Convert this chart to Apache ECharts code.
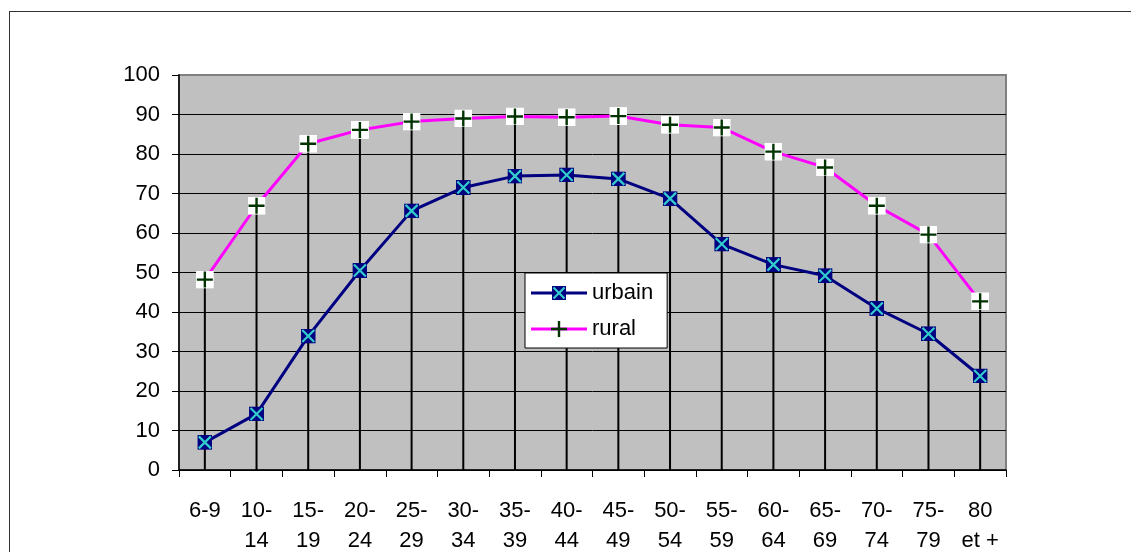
<!DOCTYPE html>
<html>
<head>
<meta charset="utf-8">
<script src="https://cdn.jsdelivr.net/npm/echarts@6/dist/echarts.min.js"></script>
<style>
html,body{margin:0;padding:0;background:#fff;overflow:hidden;}
#frame{position:absolute;left:9px;top:11px;width:1200px;height:700px;border:1.5px solid #333;box-sizing:border-box;}
#chart{position:absolute;left:0;top:0;width:1131px;height:552px;}
</style>
</head>
<body>
<div id="frame"></div>
<div id="chart"></div>
<script>
const categories = ['6-9','10-\n14','15-\n19','20-\n24','25-\n29','30-\n34','35-\n39','40-\n44','45-\n49','50-\n54','55-\n59','60-\n64','65-\n69','70-\n74','75-\n79','80\net +'];
const urbain = [7, 14.2, 33.9, 50.5, 65.6, 71.5, 74.4, 74.7, 73.7, 68.7, 57.2, 52, 49.2, 40.9, 34.5, 23.8];
const rural  = [48.2, 66.9, 82.6, 86.1, 88.2, 89, 89.5, 89.3, 89.6, 87.4, 86.7, 80.6, 76.6, 66.9, 59.6, 42.7];
const yTicks = {min: 0, max: 100, interval: 10};

function svgImg(svg){ return 'image://data:image/svg+xml;charset=utf-8,' + encodeURIComponent(svg); }
const urbSym = svgImg('<svg xmlns="http://www.w3.org/2000/svg" width="15" height="15" viewBox="0 0 15 15"><rect x="0" y="0" width="15" height="15" fill="#000080"/><path d="M1.5 1.5L13.5 13.5M13.5 1.5L1.5 13.5" stroke="#33cccc" stroke-width="2.2"/></svg>');
const rurSym = svgImg('<svg xmlns="http://www.w3.org/2000/svg" width="18" height="18" viewBox="0 0 18 18"><rect x="0" y="0" width="18" height="18" fill="#ffffff"/><path d="M9 1V17M1 9H17" stroke="#003300" stroke-width="2.4"/></svg>');
const urbLeg = svgImg('<svg xmlns="http://www.w3.org/2000/svg" width="56" height="16" viewBox="0 0 56 16"><path d="M0 8H56" stroke="#000080" stroke-width="3"/><rect x="21" y="1" width="14" height="14" fill="#000080"/><path d="M22.5 2.5L33.5 13.5M33.5 2.5L22.5 13.5" stroke="#33cccc" stroke-width="2.2"/></svg>');
const rurLeg = svgImg('<svg xmlns="http://www.w3.org/2000/svg" width="56" height="16" viewBox="0 0 56 16"><path d="M0 8H56" stroke="#ff00ff" stroke-width="3"/><path d="M28 0V16M20 8H36" stroke="#003300" stroke-width="2.4"/></svg>');

const splitColors = [];
for (let v = yTicks.min; v <= yTicks.max; v += yTicks.interval) splitColors.push(v === yTicks.max ? '#808080' : '#000');

const chart = echarts.init(document.getElementById('chart'), null, {renderer: 'canvas'});
const font = 'Liberation Sans, Arial, sans-serif';
chart.setOption({
  animation: false,
  grid: {left: 179, top: 75, right: 125, bottom: 82, containLabel: false, outerBoundsMode: 'none',
         show: true, backgroundColor: '#c0c0c0', borderColor: '#808080', borderWidth: 2},
  legend: {
    orient: 'vertical', left: 525, top: 273,
    padding: [9, 14, 8, 6], itemGap: 14, itemWidth: 56, itemHeight: 16,
    backgroundColor: '#fff', borderColor: '#000', borderWidth: 1,
    textStyle: {fontFamily: font, fontSize: 22, color: '#000', padding: [0,0,0,0]},
    data: [{name: 'urbain', icon: urbLeg}, {name: 'rural', icon: rurLeg}]
  },
  xAxis: {
    type: 'category', data: categories, boundaryGap: true,
    axisLine: {lineStyle: {color: '#000', width: 1.5}},
    axisTick: {show: true, length: 7, lineStyle: {color: '#000'}},
    axisLabel: {fontFamily: font, fontSize: 22, color: '#000', lineHeight: 30, margin: 26, interval: 0},
    splitLine: {show: false}
  },
  yAxis: {
    type: 'value', min: yTicks.min, max: yTicks.max, interval: yTicks.interval,
    axisLine: {show: true, lineStyle: {color: '#000', width: 1.5}},
    axisTick: {show: true, length: 7, lineStyle: {color: '#000'}},
    axisLabel: {fontFamily: font, fontSize: 22, color: '#000', margin: 19},
    splitLine: {show: true, lineStyle: {color: splitColors, width: 1}}
  },
  series: [
    {name: 'drop', type: 'bar', data: rural, barWidth: 2, itemStyle: {color: '#000'}, z: 1, silent: true, legendHoverLink: false},
    {name: 'urbain', type: 'line', data: urbain, symbol: urbSym, symbolSize: 15, showAllSymbol: true,
     lineStyle: {color: '#000080', width: 3}, itemStyle: {color: '#000080'}, z: 3},
    {name: 'rural', type: 'line', data: rural, symbol: rurSym, symbolSize: 18, showAllSymbol: true,
     lineStyle: {color: '#ff00ff', width: 3}, itemStyle: {color: '#ff00ff'}, z: 3}
  ]
});
</script>
</body>
</html>
